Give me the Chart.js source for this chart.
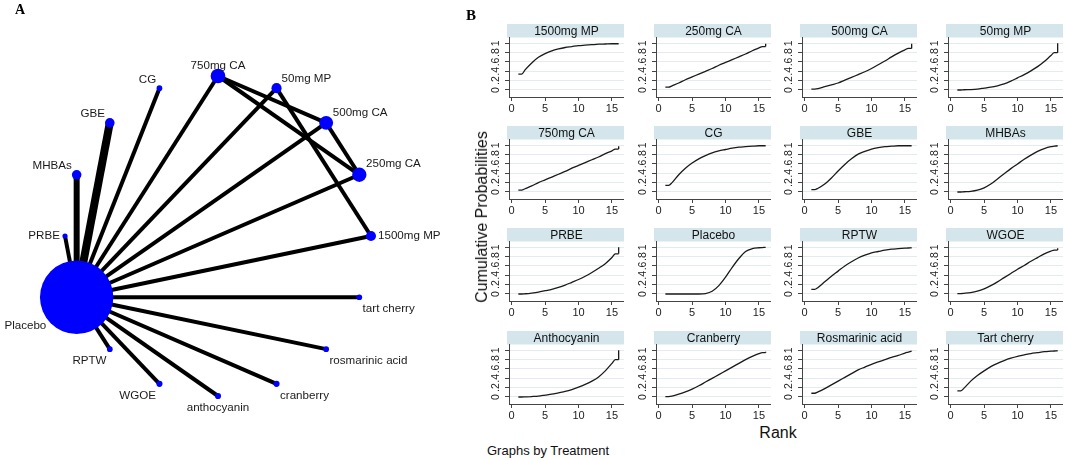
<!DOCTYPE html>
<html>
<head>
<meta charset="utf-8">
<script src="https://cdn.jsdelivr.net/npm/chart.js@4.4.0/dist/chart.umd.min.js"></script>
<style>
  body { margin: 0; background: #fff; width: 1065px; height: 460px; overflow: hidden; position: relative;
         font-family: "Liberation Sans", Arial, sans-serif; }
  canvas { position: absolute; }
  .txt { position: absolute; white-space: nowrap; color: #111; line-height: 1; }
  .panel-tag { font-family: "Liberation Serif", "Times New Roman", serif; font-weight: bold; color: #000; }
</style>
</head>
<body>
<canvas id="networkChart" width="460" height="460" style="left:0;top:0"></canvas>
<div id="rankGrid"></div>

<div class="txt panel-tag" style="left:15px;top:3px;font-size:14px">A</div>
<div class="txt panel-tag" style="left:466px;top:8px;font-size:15px">B</div>
<div class="txt" style="left:482px;top:217px;font-size:16px;transform:translate(-50%,-50%) rotate(-90deg)">Cumulative Probabilities</div>
<div class="txt" style="left:778px;top:433px;font-size:16px;transform:translate(-50%,-50%)">Rank</div>
<div class="txt" style="left:487px;top:450px;font-size:13px;transform:translate(0,-50%)">Graphs by Treatment</div>

<script>
// ネットワーク図：円周上の並び順（Stataのソート順）
const treatments = ['1500mg MP', '250mg CA', '500mg CA', '50mg MP', '750mg CA', 'CG', 'GBE', 'MHBAs',
  'PRBE', 'Placebo', 'RPTW', 'WGOE', 'anthocyanin', 'cranberry', 'rosmarinic acid', 'tart cherry'];
// ノードの相対的な大きさ（症例数の見積り）
const nodeWeight = [1.9, 3.8, 3.6, 1.9, 4.0, 0.6, 1.7, 1.7, 0.5, 100, 0.6, 0.7, 0.7, 0.7, 0.6, 0.6];
// 直接比較 [from, to, 研究数]
const comparisons = [
  ['Placebo', '1500mg MP', 1], ['Placebo', '250mg CA', 1], ['Placebo', '500mg CA', 1],
  ['Placebo', '50mg MP', 1], ['Placebo', '750mg CA', 1], ['Placebo', 'CG', 1],
  ['Placebo', 'GBE', 3], ['Placebo', 'MHBAs', 2], ['Placebo', 'PRBE', 1],
  ['Placebo', 'RPTW', 1], ['Placebo', 'WGOE', 1], ['Placebo', 'anthocyanin', 1],
  ['Placebo', 'cranberry', 1], ['Placebo', 'rosmarinic acid', 1], ['Placebo', 'tart cherry', 1],
  ['750mg CA', '500mg CA', 1], ['750mg CA', '250mg CA', 1], ['500mg CA', '250mg CA', 1],
  ['50mg MP', '1500mg MP', 1]
];

// 累積順位確率（SUCRA）
const panelNames = ['1500mg MP', '250mg CA', '500mg CA', '50mg MP', '750mg CA', 'CG', 'GBE', 'MHBAs',
  'PRBE', 'Placebo', 'RPTW', 'WGOE', 'Anthocyanin', 'Cranberry', 'Rosmarinic acid', 'Tart cherry'];
const rankX = [1, 1.5, 2, 3, 4, 5, 6, 7, 8, 9, 10, 11, 12, 13, 14, 15, 15.5, 16];
const cumProb = [
  [0.34, 0.34, 0.43, 0.58, 0.70, 0.78, 0.84, 0.88, 0.91, 0.93, 0.95, 0.96, 0.97, 0.98, 0.985, 0.99, 0.99, 0.99],
  [0.06, 0.06, 0.09, 0.15, 0.22, 0.28, 0.34, 0.40, 0.46, 0.53, 0.59, 0.65, 0.71, 0.77, 0.84, 0.90, 0.93, 0.93],
  [0.02, 0.02, 0.03, 0.07, 0.11, 0.15, 0.21, 0.27, 0.33, 0.39, 0.46, 0.54, 0.62, 0.71, 0.79, 0.86, 0.89, 0.89],
  [0, 0, 0.005, 0.01, 0.02, 0.04, 0.06, 0.09, 0.13, 0.19, 0.26, 0.33, 0.41, 0.50, 0.61, 0.74, 0.80, 0.80],
  [0.04, 0.04, 0.07, 0.13, 0.20, 0.26, 0.32, 0.38, 0.44, 0.51, 0.57, 0.63, 0.69, 0.75, 0.82, 0.88, 0.92, 0.92],
  [0.14, 0.14, 0.20, 0.37, 0.51, 0.62, 0.71, 0.78, 0.84, 0.88, 0.91, 0.94, 0.96, 0.97, 0.98, 0.99, 0.99, 0.99],
  [0.05, 0.05, 0.08, 0.17, 0.30, 0.45, 0.59, 0.71, 0.81, 0.87, 0.92, 0.95, 0.97, 0.98, 0.99, 0.99, 0.99, 0.99],
  [0, 0, 0.005, 0.015, 0.04, 0.09, 0.17, 0.28, 0.39, 0.50, 0.60, 0.70, 0.79, 0.87, 0.93, 0.97, 0.98, 0.99],
  [0, 0, 0.005, 0.02, 0.04, 0.07, 0.10, 0.14, 0.19, 0.25, 0.31, 0.38, 0.46, 0.55, 0.65, 0.78, 0.86, 0.86],
  [0, 0, 0, 0, 0, 0, 0, 0.01, 0.06, 0.18, 0.36, 0.57, 0.76, 0.91, 0.97, 0.99, 0.995, 1.0],
  [0.10, 0.10, 0.14, 0.26, 0.38, 0.49, 0.60, 0.69, 0.77, 0.83, 0.88, 0.91, 0.94, 0.96, 0.97, 0.98, 0.985, 0.99],
  [0.01, 0.01, 0.015, 0.03, 0.06, 0.11, 0.18, 0.26, 0.35, 0.44, 0.53, 0.61, 0.70, 0.78, 0.86, 0.92, 0.94, 0.94],
  [0, 0, 0.003, 0.01, 0.02, 0.04, 0.06, 0.09, 0.12, 0.16, 0.21, 0.27, 0.34, 0.43, 0.56, 0.72, 0.80, 0.80],
  [0.01, 0.01, 0.02, 0.06, 0.11, 0.17, 0.24, 0.32, 0.40, 0.48, 0.56, 0.64, 0.72, 0.80, 0.87, 0.93, 0.95, 0.95],
  [0.08, 0.08, 0.11, 0.18, 0.26, 0.34, 0.42, 0.50, 0.58, 0.64, 0.70, 0.75, 0.80, 0.85, 0.89, 0.94, 0.96, 0.98],
  [0.13, 0.13, 0.19, 0.34, 0.46, 0.56, 0.65, 0.72, 0.78, 0.83, 0.87, 0.90, 0.93, 0.95, 0.97, 0.98, 0.985, 0.99]
];
// 最終順位での値（垂直な段差、なければnull）
const lastRankProb = [null, 0.99, 0.99, 1.0, 0.98, null, null, null, 1.0, null, null, 0.98, 1.0, 0.97, null, null];

const xTickValues = [0, 5, 10, 15];
const yTickValues = [0, 0.2, 0.4, 0.6, 0.8, 1];
const yTickLabels = ['0', '.2', '.4', '.6', '.8', '1'];

const FONT = '"Liberation Sans", Arial, sans-serif';

/**
 * ネットワーク図のノード名を描くプラグイン
 */
const nodeLabelPlugin = {
  id: 'nodeLabels',
  afterDatasetsDraw(chart) {
    const ctx = chart.ctx;
    const meta = chart.getDatasetMeta(0);
    ctx.save();
    ctx.font = '11.6px ' + FONT;
    ctx.fillStyle = '#1a1a1a';
    ctx.textBaseline = 'middle';
    meta.data.forEach((pt, i) => {
      const raw = chart.data.datasets[0].data[i];
      const c = Math.cos(raw.angle), s = Math.sin(raw.angle);
      const r = raw.r;
      let x = pt.x, y = pt.y;
      if (Math.abs(c) < 0.1) {
        ctx.textAlign = 'center';
      } else if (c > 0) {
        ctx.textAlign = 'left';
        x += r * 0.8 + 1 + (Math.abs(s) < 0.1 ? 2 : 0);
      } else {
        ctx.textAlign = 'right';
        x -= r * 0.8 + 1 + (Math.abs(s) < 0.1 ? 2 : 0);
      }
      if (s > 0.1) y -= r * 0.5 + 7;
      else if (s < -0.1) y += r * 0.5 + 10.5;
      ctx.fillText(raw.label, x, y);
    });
    ctx.restore();
  }
};

function initNetwork() {
  const n = treatments.length;
  const nodes = treatments.map((t, i) => {
    const angle = 2 * Math.PI * i / n;
    return { x: Math.cos(angle), y: Math.sin(angle), r: 3.67 * Math.sqrt(nodeWeight[i]), angle: angle, label: t };
  });
  const pos = name => nodes[treatments.indexOf(name)];
  const edgeSets = comparisons.map(([a, b, k]) => ({
    type: 'line',
    data: [{ x: pos(a).x, y: pos(a).y }, { x: pos(b).x, y: pos(b).y }],
    borderColor: '#000',
    borderWidth: 2 + 2 * k,
    borderCapStyle: 'butt',
    pointRadius: 0,
    order: 2
  }));

  new Chart(document.getElementById('networkChart'), {
    type: 'bubble',
    data: {
      datasets: [{
        data: nodes,
        backgroundColor: '#0000ff',
        borderWidth: 0,
        hoverRadius: 0,
        order: 1
      }].concat(edgeSets)
    },
    options: {
      responsive: false,
      animation: false,
      events: [],
      layout: { padding: 0, autoPadding: false },
      plugins: { legend: { display: false }, tooltip: { enabled: false } },
      scales: {
        x: { type: 'linear', min: -1.425, max: 1.582, display: false },
        y: { type: 'linear', min: -1.4, max: 1.475, display: false }
      }
    },
    plugins: [nodeLabelPlugin]
  });
}

/**
 * 小さいグラフの見出し帯
 */
const stripPlugin = {
  id: 'strip',
  beforeDraw(chart, args, opts) {
    const { ctx, chartArea } = chart;
    ctx.save();
    ctx.fillStyle = '#d4e6ec';
    ctx.fillRect(chartArea.left - 2, 0, chartArea.right - chartArea.left + 2, chartArea.top);
    ctx.fillStyle = '#111';
    ctx.font = '12px ' + FONT;
    ctx.textAlign = 'center';
    ctx.textBaseline = 'middle';
    ctx.fillText(opts.text, (chartArea.left + chartArea.right) / 2, chartArea.top / 2 + 0.5);
    ctx.restore();
  }
};

function initRankCharts() {
  const grid = document.getElementById('rankGrid');
  const colAxisX = [509, 656, 802, 948];
  const rowTop = [24, 126.2, 228.4, 330.6];
  const yAxisW = 28, plotW = 115, stripH = 13.5, plotH = 59.5, xAxisH = 20;

  panelNames.forEach((name, i) => {
    const col = i % 4, row = Math.floor(i / 4);
    const cv = document.createElement('canvas');
    cv.width = yAxisW + plotW;
    cv.height = stripH + plotH + xAxisH;
    cv.style.left = (colAxisX[col] - yAxisW) + 'px';
    cv.style.top = rowTop[row] + 'px';
    grid.appendChild(cv);

    const datasets = [{
      data: rankX.map((x, j) => ({ x: x, y: cumProb[i][j] })),
      borderColor: '#1a1a1a',
      borderWidth: 1.3,
      pointRadius: 0,
      cubicInterpolationMode: 'monotone'
    }];
    if (lastRankProb[i] !== null) {
      const last = cumProb[i][cumProb[i].length - 1];
      datasets.push({
        data: [{ x: 16, y: last }, { x: 16, y: lastRankProb[i] }],
        borderColor: '#1a1a1a',
        borderWidth: 1.3,
        pointRadius: 0
      });
    }

    new Chart(cv, {
      type: 'line',
      data: { datasets: datasets },
      options: {
        responsive: false,
        animation: false,
        events: [],
        layout: { padding: { top: stripH, left: 0, right: 0, bottom: 0 } },
        plugins: { legend: { display: false }, tooltip: { enabled: false }, strip: { text: name } },
        scales: {
          x: {
            type: 'linear', min: -0.4, max: 16.8,
            afterBuildTicks: s => { s.ticks = xTickValues.map(v => ({ value: v })); },
            afterFit: s => { s.height = xAxisH; },
            ticks: { font: { size: 11, family: FONT }, color: '#222', padding: 1, maxRotation: 0 },
            grid: { drawOnChartArea: false, tickLength: 4, tickColor: '#444' },
            border: { color: '#444', width: 1 }
          },
          y: {
            type: 'linear', min: -0.15, max: 1.124,
            afterBuildTicks: s => { s.ticks = yTickValues.map(v => ({ value: v })); },
            afterFit: s => { s.width = yAxisW; },
            ticks: {
              font: { size: 10.5, family: FONT }, color: '#222', padding: 5,
              minRotation: 90, maxRotation: 90, crossAlign: 'center',
              callback: v => yTickLabels[yTickValues.indexOf(v)]
            },
            grid: { color: '#e3ebee', lineWidth: 1, tickLength: 4, tickColor: '#444' },
            border: { color: '#444', width: 1 }
          }
        }
      },
      plugins: [stripPlugin]
    });
  });
}

initNetwork();
initRankCharts();
</script>
</body>
</html>
